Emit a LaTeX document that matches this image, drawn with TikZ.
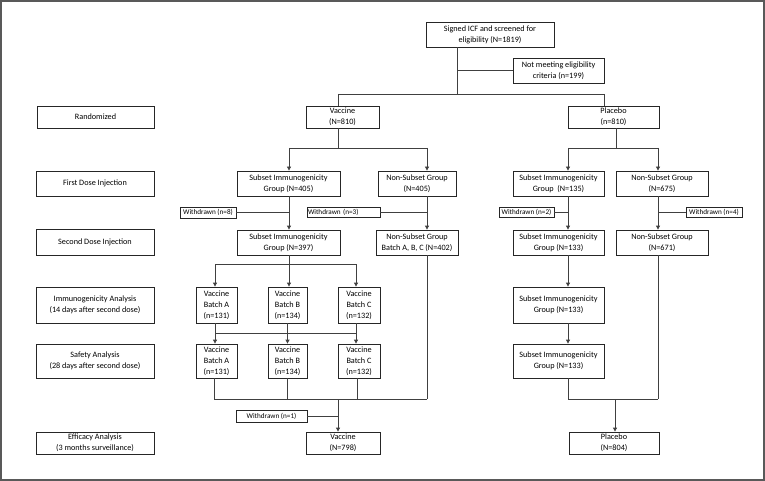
\documentclass[tikz,border=0pt]{standalone}
\usepackage{fontspec}
\setmainfont{Carlito}
\usetikzlibrary{arrows.meta}
\begin{document}
\begin{tikzpicture}[x=1pt,y=-1pt,
  bx/.style={draw=black!85, line width=0.8pt, inner sep=0pt, align=center, font=\fontsize{8.2}{11}\selectfont},
  wd/.style={draw=black!85, line width=0.8pt, inner sep=0pt, align=center, font=\fontsize{7.2}{8}\selectfont},
  ln/.style={draw=black!75, line width=0.8pt},
  ar/.style={draw=black!75, line width=0.8pt, -{Triangle[width=4pt,length=4pt]}}]
\useasboundingbox (0,0) rectangle (765,481);
\draw[draw=black!65, line width=2pt] (1,1) rectangle (764,480);

% left labels
\node[bx, minimum width=117pt, minimum height=22pt] (lrand) at (95.5,117) {Randomized};
\node[bx, minimum width=118pt, minimum height=25pt] (lfirst) at (95,183.5) {First Dose Injection};
\node[bx, minimum width=118pt, minimum height=26pt] (lsecond) at (95,242) {Second Dose Injection};
\node[bx, minimum width=118pt, minimum height=36pt] (limm) at (95,305) {Immunogenicity Analysis\\(14 days after second dose)};
\node[bx, minimum width=118pt, minimum height=34pt] (lsaf) at (95,361) {Safety Analysis\\(28 days after second dose)};
\node[bx, minimum width=118pt, minimum height=22pt] (leff) at (95,443) {Efficacy Analysis\\(3 months surveillance)};

% top
\node[bx, minimum width=128pt, minimum height=25pt] (icf) at (490,34.5) {Signed ICF and screened for\\eligibility (N=1819)};
\node[bx, minimum width=91pt, minimum height=25pt] (nm) at (558.5,70.5) {Not meeting eligibility\\criteria (n=199)};
\node[bx, minimum width=73pt, minimum height=22pt] (vac) at (342.5,117) {Vaccine\\(N=810)};
\node[bx, minimum width=91pt, minimum height=22pt] (pla) at (613.5,117) {Placebo\\(n=810)};

% first dose
\node[bx, minimum width=103pt, minimum height=25pt] (si405) at (288.5,183.5) {Subset Immunogenicity\\Group (N=405)};
\node[bx, minimum width=78pt, minimum height=25pt] (ns405) at (417,183.5) {Non-Subset Group\\(N=405)};
\node[bx, minimum width=91pt, minimum height=25pt] (si135) at (558.5,183.5) {Subset Immunogenicity\\Group\ \ (N=135)};
\node[bx, minimum width=92pt, minimum height=25pt] (ns675) at (662,183.5) {Non-Subset Group\\(N=675)};

% withdrawn
\node[wd, minimum width=56pt, minimum height=11pt] (w8) at (208,212.5) {Withdrawn (n=8)};
\node[wd, text width=71pt, align=left, inner xsep=1pt, minimum height=10pt] (w3) at (343.5,212.5) {Withdrawn (n=3)};
\node[wd, minimum width=55pt, minimum height=10pt] (w2) at (526.5,212.5) {Withdrawn (n=2)};
\node[wd, minimum width=56pt, minimum height=10pt] (w4) at (714,212.5) {Withdrawn (n=4)};

% second dose
\node[bx, minimum width=103pt, minimum height=25pt] (si397) at (288.5,242.5) {Subset Immunogenicity\\Group (N=397)};
\node[bx, minimum width=82pt, minimum height=25pt] (ns402) at (417,242.5) {Non-Subset Group\\Batch A, B, C (N=402)};
\node[bx, minimum width=91pt, minimum height=25pt] (si133a) at (558.5,242.5) {Subset Immunogenicity\\Group (N=133)};
\node[bx, minimum width=92pt, minimum height=25pt] (ns671) at (662,242.5) {Non-Subset Group\\(N=671)};

% immunogenicity row
\node[bx, minimum width=41pt, minimum height=36pt] (a1) at (216.5,305) {Vaccine\\Batch A\\(n=131)};
\node[bx, minimum width=39pt, minimum height=36pt] (b1) at (287.5,305) {Vaccine\\Batch B\\(n=134)};
\node[bx, minimum width=42pt, minimum height=36pt] (c1) at (359,305) {Vaccine\\Batch C\\(n=132)};
\node[bx, minimum width=91pt, minimum height=36pt] (si133b) at (558.5,305) {Subset Immunogenicity\\Group (N=133)};

% safety row
\node[bx, minimum width=41pt, minimum height=34pt] (a2) at (216.5,361) {Vaccine\\Batch A\\(n=131)};
\node[bx, minimum width=39pt, minimum height=34pt] (b2) at (287.5,361) {Vaccine\\Batch B\\(n=134)};
\node[bx, minimum width=42pt, minimum height=34pt] (c2) at (359,361) {Vaccine\\Batch C\\(n=132)};
\node[bx, minimum width=91pt, minimum height=34pt] (si133c) at (558.5,361) {Subset Immunogenicity\\Group (N=133)};

% efficacy
\node[wd, minimum width=71pt, minimum height=12pt] (w1) at (271.5,416) {Withdrawn (n=1)};
\node[bx, minimum width=74pt, minimum height=22pt] (v798) at (343,443) {Vaccine\\(N=798)};
\node[bx, minimum width=90pt, minimum height=22pt] (p804) at (614,443) {Placebo\\(N=804)};

% junction coordinates
\coordinate (j0) at (457,94);
\coordinate (jn) at (457,70.5);
\coordinate (jv) at (338,94);
\coordinate (jp) at (604,94);
\coordinate (jv2) at (338,148);
\coordinate (jvl) at (289,148);
\coordinate (jvr) at (427,148);
\coordinate (jp2) at (616,148);
\coordinate (jpl) at (568,148);
\coordinate (jpr) at (658,148);
\coordinate (k8) at (289,212.5);
\coordinate (k3) at (427,212.5);
\coordinate (k2) at (568,212.5);
\coordinate (k4) at (658,212.5);
\coordinate (s1) at (289,264);
\coordinate (s1l) at (215,264);
\coordinate (s1r) at (356,264);
\coordinate (m1l) at (215,333);
\coordinate (m1r) at (356,333);
\coordinate (e1) at (214,399);
\coordinate (e2) at (287,399);
\coordinate (e3) at (357,399);
\coordinate (e4) at (427,399);
\coordinate (ev) at (338,399);
\coordinate (ew) at (338,416);
\coordinate (f1) at (568,399);
\coordinate (f2) at (658,399);
\coordinate (fp) at (615,399);

% connectors top
\draw[ln] (icf.south -| j0) -- (j0);
\draw[ln] (jn) -- (nm.west);
\draw[ln] (jv) -- (jp);
\draw[ln] (jv) -- (vac.north -| jv);
\draw[ln] (jp) -- (pla.north -| jp);
\draw[ln] (vac.south -| jv2) -- (jv2);
\draw[ln] (jvl) -- (jvr);
\draw[ar] (jvl) -- (si405.north -| jvl);
\draw[ar] (jvr) -- (ns405.north -| jvr);
\draw[ln] (pla.south -| jp2) -- (jp2);
\draw[ln] (jpl) -- (jpr);
\draw[ar] (jpl) -- (si135.north -| jpl);
\draw[ar] (jpr) -- (ns675.north -| jpr);

% first -> second dose
\draw[ar] (si405.south -| k8) -- (si397.north -| k8);
\draw[ln] (w8.east) -- (k8);
\draw[ar] (ns405.south -| k3) -- (ns402.north -| k3);
\draw[ln] (w3.east) -- (k3);
\draw[ar] (si135.south -| k2) -- (si133a.north -| k2);
\draw[ln] (w2.east) -- (k2);
\draw[ar] (ns675.south -| k4) -- (ns671.north -| k4);
\draw[ln] (w4.west) -- (k4);

% second dose -> batches
\draw[ln] (si397.south -| s1) -- (s1);
\draw[ln] (s1l) -- (s1r);
\draw[ar] (s1l) -- (a1.north -| s1l);
\draw[ar] (s1) -- (b1.north -| s1);
\draw[ar] (s1r) -- (c1.north -| s1r);

% immunogenicity -> safety
\draw[ar] (a1.south -| m1l) -- (a2.north -| m1l);
\draw[ar] (b1.south) -- (b2.north);
\draw[ar] (c1.south -| m1r) -- (c2.north -| m1r);
\draw[ln] (m1l) -- (m1r);

% safety -> efficacy (vaccine)
\draw[ln] (a2.south -| e1) -- (e1);
\draw[ln] (b2.south -| e2) -- (e2);
\draw[ln] (c2.south -| e3) -- (e3);
\draw[ln] (ns402.south -| e4) -- (e4);
\draw[ln] (e1) -- (e4);
\draw[ar] (ev) -- (v798.north -| ev);
\draw[ln] (w1.east) -- (ew);

% placebo side
\draw[ar] (si133a.south -| k2) -- (si133b.north -| k2);
\draw[ar] (si133b.south -| k2) -- (si133c.north -| k2);
\draw[ln] (si133c.south -| f1) -- (f1);
\draw[ln] (ns671.south -| f2) -- (f2);
\draw[ln] (f1) -- (f2);
\draw[ar] (fp) -- (p804.north -| fp);
\end{tikzpicture}
\end{document}
